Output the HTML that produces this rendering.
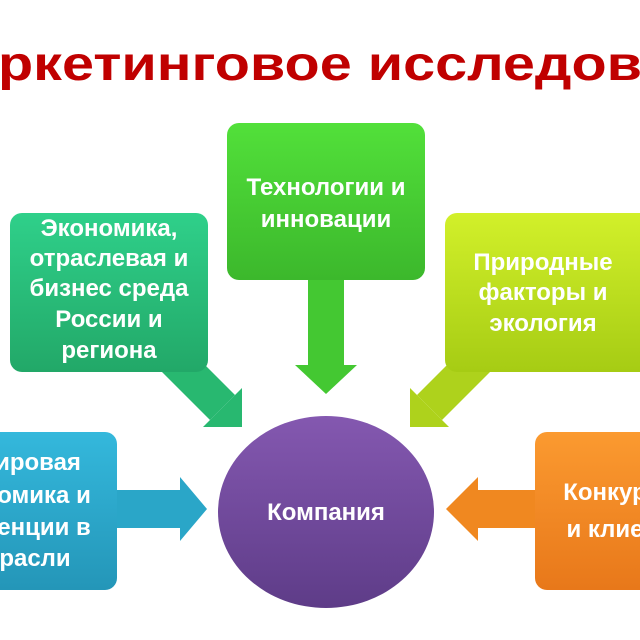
<!DOCTYPE html>
<html><head><meta charset="utf-8"><style>
html,body{margin:0;padding:0;background:#fff;width:640px;height:640px;overflow:hidden}
svg{display:block}
text{font-family:"Liberation Sans","DejaVu Sans",sans-serif;font-weight:bold}
.w{fill:#fff;font-size:24px;text-anchor:middle}
</style></head><body>
<svg width="640" height="640" viewBox="0 0 640 640" xmlns="http://www.w3.org/2000/svg">
<defs>
<linearGradient id="gTop" x1="0" y1="0" x2="0" y2="1"><stop offset="0" stop-color="#52e03a"/><stop offset="1" stop-color="#3cb82c"/></linearGradient>
<linearGradient id="gL" x1="0" y1="0" x2="0" y2="1"><stop offset="0" stop-color="#2fd08a"/><stop offset="1" stop-color="#22a868"/></linearGradient>
<linearGradient id="gR" x1="0" y1="0" x2="0" y2="1"><stop offset="0" stop-color="#d2f02a"/><stop offset="1" stop-color="#a6cc14"/></linearGradient>
<linearGradient id="gB" x1="0" y1="0" x2="0" y2="1"><stop offset="0" stop-color="#34b8dc"/><stop offset="1" stop-color="#2496b8"/></linearGradient>
<linearGradient id="gO" x1="0" y1="0" x2="0" y2="1"><stop offset="0" stop-color="#fb9a30"/><stop offset="1" stop-color="#e8781a"/></linearGradient>
<linearGradient id="gC" x1="0" y1="0" x2="0" y2="1"><stop offset="0" stop-color="#8458b0"/><stop offset="1" stop-color="#5e3c88"/></linearGradient>
</defs>
<text x="-2" y="80" font-size="48" fill="#c00000" textLength="644" lengthAdjust="spacingAndGlyphs">ркетинговое исследов</text>

<!-- arrows -->
<polygon points="308,280 344,280 344,365 357,365 326,394 295,365 308,365" fill="#44c832"/>
<polygon points="117,490 180,490 180,477 207,509 180,541 180,528 117,528" fill="#2aa6c8"/>
<polygon points="535,490 478,490 478,477 446,509 478,541 478,528 535,528" fill="#f08820"/>
<polygon points="170,330 195,355 235,395 210,420 170,380 145,355" fill="#28b870"/>
<polygon points="242,388 242,427 203,427" fill="#28b870"/>
<polygon points="482,330 457,355 417,395 442,420 482,380 507,355" fill="#aed21c"/>
<polygon points="410,388 410,427 449,427" fill="#aed21c"/>

<!-- boxes -->
<rect x="227" y="123" width="198" height="157" rx="12" fill="url(#gTop)"/>
<rect x="10" y="213" width="198" height="159" rx="12" fill="url(#gL)"/>
<rect x="445" y="213" width="210" height="159" rx="12" fill="url(#gR)"/>
<rect x="-20" y="432" width="137" height="158" rx="12" fill="url(#gB)"/>
<rect x="535" y="432" width="130" height="158" rx="12" fill="url(#gO)"/>
<ellipse cx="326" cy="512" rx="108" ry="96" fill="url(#gC)"/>

<text class="w" x="326" y="195">Технологии и</text>
<text class="w" x="326" y="227">инновации</text>
<text class="w" x="109" y="236">Экономика,</text>
<text class="w" x="109" y="266">отраслевая и</text>
<text class="w" x="109" y="296">бизнес среда</text>
<text class="w" x="109" y="327">России и</text>
<text class="w" x="109" y="358">региона</text>
<text class="w" x="543" y="270">Природные</text>
<text class="w" x="543" y="300">факторы и</text>
<text class="w" x="543" y="331">экология</text>
<text class="w" x="38" y="470">ировая</text>
<text class="w" x="44" y="503">омика и</text>
<text class="w" x="44" y="535">енции в</text>
<text class="w" x="35" y="566">расли</text>
<text class="w" x="605" y="500">Конкур</text>
<text class="w" x="605" y="537">и клие</text>
<text class="w" x="326" y="520">Компания</text>
</svg>
</body></html>
